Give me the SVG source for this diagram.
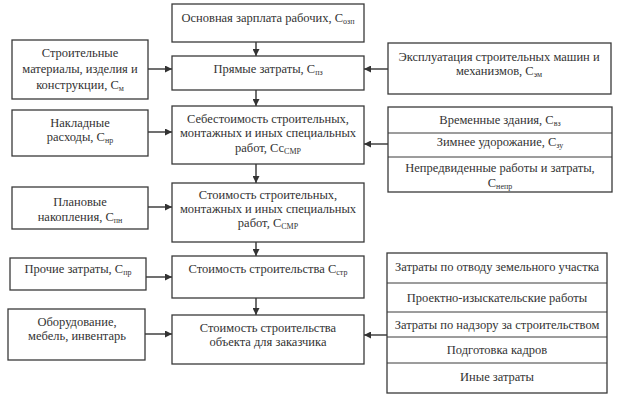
<svg xmlns="http://www.w3.org/2000/svg" width="623" height="401" viewBox="0 0 623 401" font-family="Liberation Serif, DejaVu Serif, serif">
<defs>
<style>
.b{fill:#fff;stroke:#3a3a3a;stroke-width:1.3}
.d{stroke:#3a3a3a;stroke-width:1}
.t{font-family:'Liberation Serif','DejaVu Serif',serif;font-size:12.5px;fill:#333;text-anchor:middle}
.s{font-size:8px}
.c{stroke:#333;stroke-width:1.4;fill:none;marker-end:url(#a)}
</style>
<marker id="a" viewBox="0 0 10 10" refX="10" refY="5" markerWidth="7" markerHeight="7" markerUnits="userSpaceOnUse" orient="auto"><path d="M0,0L10,5L0,10z" fill="#333"/></marker>
</defs>
<rect width="623" height="401" fill="#fff"/>
<g id="connectors">
<line class="c" x1="256" y1="42" x2="256" y2="56"/>
<line class="c" x1="256" y1="90" x2="256" y2="106"/>
<line class="c" x1="256" y1="164" x2="256" y2="183"/>
<line class="c" x1="256" y1="242" x2="256" y2="256"/>
<line class="c" x1="256" y1="298" x2="256" y2="315"/>
<line class="c" x1="148" y1="69" x2="172" y2="69"/>
<line class="c" x1="148" y1="132" x2="172" y2="132"/>
<line class="c" x1="148" y1="207" x2="172" y2="207"/>
<line class="c" x1="146" y1="277" x2="172" y2="277"/>
<line class="c" x1="145" y1="334" x2="172" y2="334"/>
<line class="c" x1="388" y1="69" x2="364" y2="69"/>
<line class="c" x1="388" y1="144" x2="364" y2="144"/>
<line class="c" x1="387" y1="335" x2="364" y2="335"/>
</g>
<g id="c0"><rect class="b" x="172" y="4" width="192" height="38"/><text class="t" x="268" y="22">Основная зарплата рабочих, С<tspan class="s" dy="2">озп</tspan></text></g>
<g id="c1"><rect class="b" x="172" y="56" width="192" height="34"/><text class="t" x="268" y="73">Прямые затраты, С<tspan class="s" dy="2">пз</tspan></text></g>
<g id="c2"><rect class="b" x="172" y="106" width="192" height="58"/><text class="t" x="268" y="123">Себестоимость строительных,</text><text class="t" x="268" y="137">монтажных и иных специальных</text><text class="t" x="268" y="152">работ, Сс<tspan class="s" dy="2">СМР</tspan></text></g>
<g id="c3"><rect class="b" x="172" y="183" width="192" height="59"/><text class="t" x="268" y="199">Стоимость строительных,</text><text class="t" x="268" y="213">монтажных и иных специальных</text><text class="t" x="268" y="227">работ, С<tspan class="s" dy="2">СМР</tspan></text></g>
<g id="c4"><rect class="b" x="172" y="256" width="192" height="42"/><text class="t" x="268" y="273">Стоимость строительства С<tspan class="s" dy="2">стр</tspan></text></g>
<g id="c5"><rect class="b" x="172" y="315" width="192" height="49"/><text class="t" x="268" y="332">Стоимость строительства</text><text class="t" x="268" y="346">объекта для заказчика</text></g>
<g id="l1"><rect class="b" x="12" y="40" width="136" height="59"/><text class="t" x="80" y="57">Строительные</text><text class="t" x="80" y="73">материалы, изделия и</text><text class="t" x="80" y="89">конструкции, С<tspan class="s" dy="2">м</tspan></text></g>
<g id="l2"><rect class="b" x="12" y="110" width="136" height="46"/><text class="t" x="80" y="127">Накладные</text><text class="t" x="80" y="141">расходы, С<tspan class="s" dy="2">нр</tspan></text></g>
<g id="l3"><rect class="b" x="12" y="187" width="136" height="42"/><text class="t" x="80" y="206">Плановые</text><text class="t" x="80" y="221">накопления, С<tspan class="s" dy="2">пн</tspan></text></g>
<g id="l4"><rect class="b" x="10" y="258" width="136" height="32"/><text class="t" x="78" y="273">Прочие затраты, С<tspan class="s" dy="2">пр</tspan></text></g>
<g id="l5"><rect class="b" x="8" y="309" width="137" height="51"/><text class="t" x="77" y="326">Оборудование,</text><text class="t" x="77" y="340">мебель, инвентарь</text></g>
<g id="r1"><rect class="b" x="388" y="43" width="223" height="51"/><text class="t" x="499" y="61">Эксплуатация строительных машин и</text><text class="t" x="499" y="75">механизмов, С<tspan class="s" dy="2">эм</tspan></text></g>
<g id="r2"><rect class="b" x="388" y="107" width="224" height="85"/><line class="d" x1="388" y1="133" x2="612" y2="133"/><line class="d" x1="388" y1="157" x2="612" y2="157"/><text class="t" x="500" y="124">Временные здания, С<tspan class="s" dy="2">вз</tspan></text><text class="t" x="500" y="146">Зимнее удорожание, С<tspan class="s" dy="2">зу</tspan></text><text class="t" x="500" y="172">Непредвиденные работы и затраты,</text><text class="t" x="500" y="187">С<tspan class="s" dy="2">непр</tspan></text></g>
<g id="r3"><rect class="b" x="387" y="253" width="220" height="140"/><line class="d" x1="387" y1="283" x2="607" y2="283"/><line class="d" x1="387" y1="312" x2="607" y2="312"/><line class="d" x1="387" y1="337" x2="607" y2="337"/><line class="d" x1="387" y1="363" x2="607" y2="363"/><text class="t" x="497" y="271">Затраты по отводу земельного участка</text><text class="t" x="497" y="302">Проектно-изыскательские работы</text><text class="t" x="497" y="329">Затраты по надзору за строительством</text><text class="t" x="497" y="354">Подготовка кадров</text><text class="t" x="497" y="381">Иные затраты</text></g>
</svg>
